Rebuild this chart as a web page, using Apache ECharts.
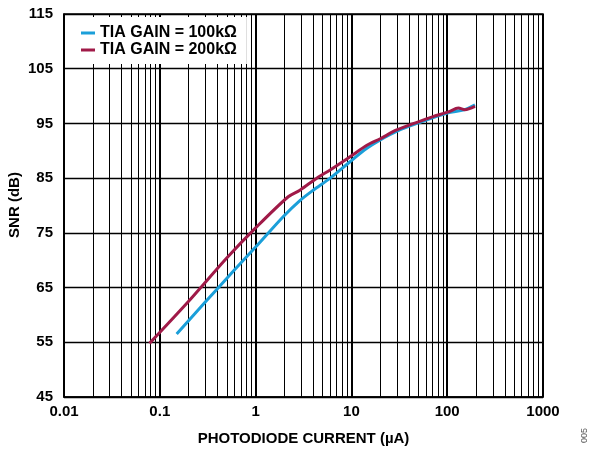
<!DOCTYPE html>
<html>
<head>
<meta charset="utf-8">
<script src="https://cdn.jsdelivr.net/npm/echarts@6/dist/echarts.min.js"></script>
<style>html,body{margin:0;padding:0;background:#fff}#c{width:594px;height:450px}</style>
</head>
<body>
<div id="c"></div>
<script>
const seriesNames = ['TIA GAIN = 100kΩ', 'TIA GAIN = 200kΩ'];
const current100k = [0.15, 0.3, 0.6, 1, 1.95, 2.9, 4, 6, 9.66, 14.5, 20, 30, 50, 100, 150, 195];
const snr100k =     [56.5, 62.4, 68.2, 72.4, 78, 80.9, 82.8, 85, 88, 90.45, 92, 93.6, 95.1, 96.9, 97.5, 98.4];
const current200k = [0.078, 0.2, 0.5, 1, 2.19, 2.9, 4.35, 6, 9.66, 14.5, 20, 29.7, 50, 70, 103, 131, 153, 195];
const snr200k =     [54.8, 62.5, 70.4, 75.9, 81.6, 82.8, 85, 86.5, 88.9, 91, 92.2, 93.8, 95.3, 96.2, 97.1, 97.8, 97.5, 98.1];
const yTicks = [45, 55, 65, 75, 85, 95, 105, 115];
const xDecades = [0.01, 0.1, 1, 10, 100, 1000];
const minorMultipliers = [2, 3, 4, 5, 6, 7, 8, 9];
const yAxisTitle = 'SNR (dB)';

const minorLines = [];
for (let i = 0; i < xDecades.length - 1; i++) {
  for (const m of minorMultipliers) minorLines.push({ xAxis: +(xDecades[i] * m).toPrecision(6) });
}

const font = '"Liberation Sans", Arial, sans-serif';
const chart = echarts.init(document.getElementById('c'), null, { renderer: 'canvas' });
chart.setOption({
  animation: false,
  backgroundColor: '#fff',
  grid: { left: 64, right: 51, top: 14, bottom: 53, containLabel: false, outerBoundsMode: 'none',
          show: true, borderColor: '#000', borderWidth: 1.5 },
  legend: {
    orient: 'vertical', left: 65, top: 17,
    padding: [8, 10, 6, 16], backgroundColor: '#fff',
    itemWidth: 14, itemHeight: 3, itemGap: 1,
    icon: 'rect',
    textStyle: { fontFamily: font, fontWeight: 'bold', fontSize: 16, color: '#000' },
    data: seriesNames
  },
  xAxis: {
    type: 'log', logBase: 10, min: xDecades[0], max: xDecades[xDecades.length - 1],
    name: 'PHOTODIODE CURRENT (µA)', nameLocation: 'middle', nameGap: 34,
    nameTextStyle: { fontFamily: font, fontWeight: 'bold', fontSize: 15, color: '#000' },
    axisLine: { show: true, lineStyle: { color: '#000', width: 1.5 } },
    axisTick: { show: false },
    axisLabel: { fontFamily: font, fontWeight: 'bold', fontSize: 15, color: '#000', margin: 7,
      formatter: v => String(+v.toPrecision(6)) },
    splitLine: { show: true, lineStyle: { color: '#000', width: 2 } }
  },
  yAxis: {
    type: 'value', min: yTicks[0], max: yTicks[yTicks.length - 1], interval: 10,
    axisLine: { show: true, lineStyle: { color: '#000', width: 1.5 } },
    axisTick: { show: false },
    axisLabel: { fontFamily: font, fontWeight: 'bold', fontSize: 15, color: '#000', margin: 11 },
    splitLine: { show: true, lineStyle: { color: '#000', width: 1.3 } }
  },
  series: [
    {
      name: seriesNames[0], type: 'line', smooth: 0.3, symbol: 'none', z: 5,
      lineStyle: { color: '#1b9fd9', width: 3 }, itemStyle: { color: '#1b9fd9' },
      data: current100k.map((x, i) => [x, snr100k[i]]),
      markLine: {
        silent: true, symbol: ['none', 'none'], label: { show: false },
        lineStyle: { color: '#000', width: 1, type: 'solid' },
        emphasis: { disabled: true },
        data: minorLines, z: 1
      }
    },
    {
      name: seriesNames[1], type: 'line', smooth: 0.3, symbol: 'none', z: 6,
      lineStyle: { color: '#a01a48', width: 3 }, itemStyle: { color: '#a01a48' },
      data: current200k.map((x, i) => [x, snr200k[i]])
    }
  ],
  graphic: [
    { type: 'text', x: 15, y: 205, rotation: Math.PI / 2,
      style: { text: yAxisTitle, fontFamily: font, fontWeight: 'bold', fontSize: 15, fill: '#000',
               align: 'center', verticalAlign: 'middle' } },
    { type: 'text', left: 580, top: 428, rotation: Math.PI / 2,
      style: { text: '005', fontFamily: font, fontSize: 9, fill: '#555' } }
  ]
});
</script>
</body>
</html>
